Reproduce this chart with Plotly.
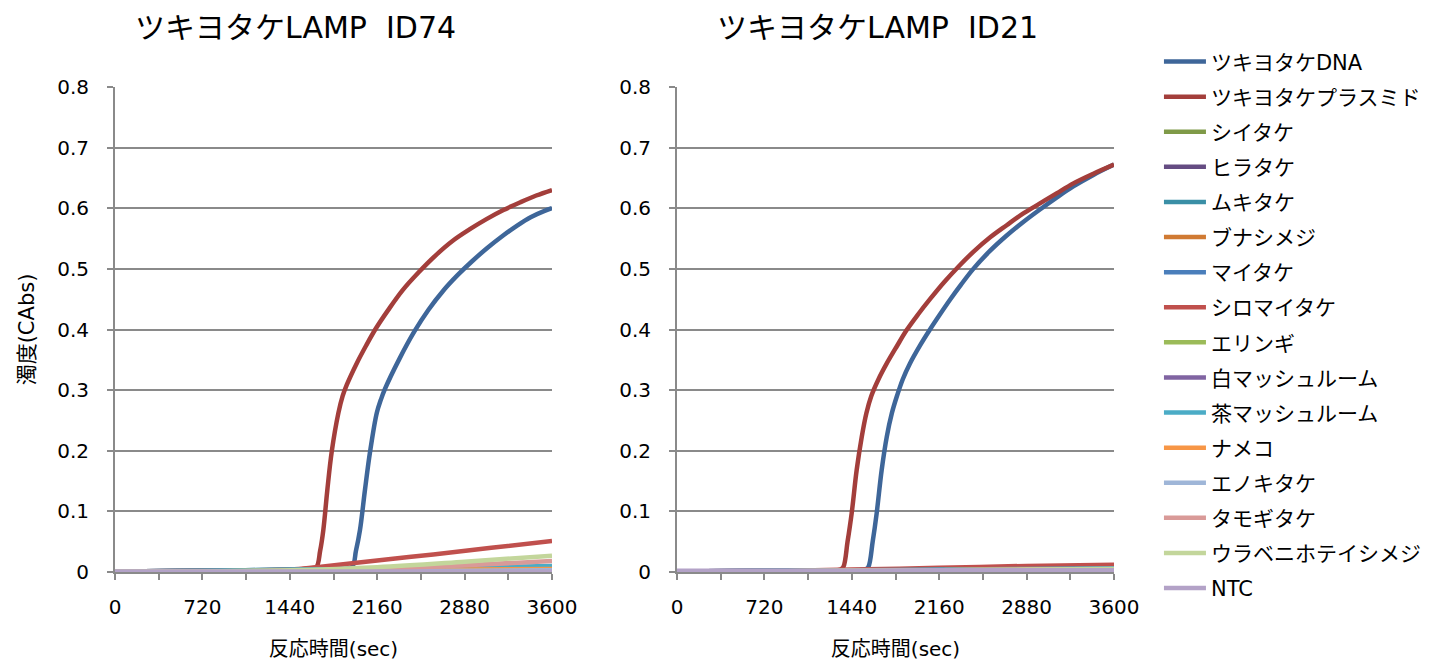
import plotly.graph_objects as go

# ---- series (legend order) ----
series_names = [
    "ツキヨタケDNA", "ツキヨタケプラスミド", "シイタケ", "ヒラタケ", "ムキタケ",
    "ブナシメジ", "マイタケ", "シロマイタケ", "エリンギ", "白マッシュルーム",
    "茶マッシュルーム", "ナメコ", "エノキタケ", "タモギタケ", "ウラベニホテイシメジ", "NTC",
]
series_colors = [
    "#3E6699", "#A33E3B", "#7F9A48", "#654C82", "#3A8FA6", "#D07A33",
    "#4A7EBB", "#C0504D", "#9BBB59", "#8064A2", "#4BACC6", "#F79646",
    "#9FB6D8", "#D99A98", "#C3D69B", "#B3A2C7",
]

x_ticks = [0, 720, 1440, 2160, 2880, 3600]

# coarse sampling grid (sec) for the slowly drifting samples
t_grid = [0, 720, 1440, 2160, 2880, 3600]

# ---- ID74 ----
id74_dna_t = [0, 720, 1440, 1800, 1950, 1985, 2018, 2059, 2101, 2156, 2190, 2224, 2344,
              2464, 2584, 2704, 2824, 2944, 3064, 3184, 3304, 3424, 3544, 3600]
id74_dna = [0.001, 0.002, 0.004, 0.006, 0.008, 0.035, 0.069, 0.135, 0.198, 0.262, 0.284,
            0.302, 0.352, 0.396, 0.433, 0.464, 0.490, 0.513, 0.534, 0.553, 0.570, 0.585,
            0.596, 0.600]
id74_plasmid_t = [0, 720, 1440, 1600, 1658, 1690, 1716, 1749, 1785, 1840, 1875, 1910,
                  1991, 2070, 2150, 2250, 2370, 2500, 2640, 2780, 2920, 3060, 3200, 3340,
                  3470, 3600]
id74_plasmid = [0.001, 0.002, 0.004, 0.006, 0.008, 0.035, 0.069, 0.135, 0.198, 0.262,
                0.290, 0.309, 0.344, 0.374, 0.402, 0.432, 0.465, 0.494, 0.522, 0.546,
                0.565, 0.582, 0.597, 0.610, 0.621, 0.630]
id74_shiromaitake_t = [0, 720, 1440, 1661, 2160, 2622, 3100, 3600]
id74_shiromaitake = [0.001, 0.002, 0.004, 0.008, 0.019, 0.029, 0.040, 0.051]
id74_shiitake = [0.001, 0.001, 0.002, 0.003, 0.004, 0.005]
id74_hiratake = [0.001, 0.001, 0.002, 0.002, 0.003, 0.004]
id74_mukitake = [0.001, 0.002, 0.003, 0.004, 0.005, 0.006]
id74_bunashimeji = [0.001, 0.001, 0.002, 0.003, 0.004, 0.005]
id74_maitake = [0.001, 0.002, 0.003, 0.003, 0.004, 0.005]
id74_eringi = [0.001, 0.001, 0.002, 0.003, 0.004, 0.005]
id74_white_mushroom = [0.001, 0.001, 0.002, 0.002, 0.003, 0.004]
id74_brown_mushroom = [0.001, 0.002, 0.004, 0.005, 0.007, 0.010]
id74_nameko = [0.001, 0.001, 0.002, 0.003, 0.004, 0.005]
id74_enokitake = [0.001, 0.001, 0.001, 0.002, 0.002, 0.003]
id74_tamogitake = [0.001, 0.001, 0.002, 0.005, 0.011, 0.018]
id74_urabeni = [0.001, 0.001, 0.003, 0.008, 0.017, 0.027]
id74_ntc = [0.001, 0.001, 0.001, 0.001, 0.001, 0.001]

# ---- ID21 ----
id21_dna_t = [0, 720, 1440, 1550, 1576, 1612, 1645, 1686, 1728, 1770, 1810, 1860, 1919,
              2000, 2084, 2160, 2249, 2340, 2441, 2580, 2716, 2850, 2990, 3130, 3265,
              3430, 3600]
id21_dna = [0.001, 0.002, 0.003, 0.004, 0.008, 0.050, 0.097, 0.168, 0.223, 0.262, 0.289,
            0.318, 0.344, 0.373, 0.400, 0.423, 0.449, 0.474, 0.500, 0.530, 0.555, 0.577,
            0.598, 0.618, 0.636, 0.655, 0.672]
id21_plasmid_t = [0, 720, 1200, 1345, 1370, 1405, 1439, 1480, 1522, 1560, 1600, 1660,
                  1728, 1810, 1892, 1990, 2084, 2200, 2320, 2441, 2580, 2716, 2850, 2990,
                  3130, 3265, 3430, 3600]
id21_plasmid = [0.001, 0.002, 0.003, 0.004, 0.008, 0.050, 0.097, 0.168, 0.223, 0.262,
                0.290, 0.318, 0.344, 0.372, 0.399, 0.426, 0.450, 0.478, 0.504, 0.528,
                0.552, 0.572, 0.591, 0.608, 0.625, 0.641, 0.657, 0.672]
id21_shiitake = [0.001, 0.001, 0.002, 0.003, 0.004, 0.005]
id21_hiratake = [0.001, 0.001, 0.002, 0.002, 0.003, 0.004]
id21_mukitake = [0.001, 0.002, 0.003, 0.004, 0.005, 0.006]
id21_bunashimeji = [0.001, 0.001, 0.002, 0.003, 0.004, 0.004]
id21_maitake = [0.001, 0.002, 0.003, 0.004, 0.004, 0.005]
id21_shiromaitake = [0.001, 0.002, 0.004, 0.007, 0.010, 0.012]
id21_eringi = [0.001, 0.001, 0.002, 0.003, 0.004, 0.005]
id21_white_mushroom = [0.001, 0.001, 0.002, 0.002, 0.003, 0.004]
id21_brown_mushroom = [0.001, 0.002, 0.003, 0.004, 0.005, 0.006]
id21_nameko = [0.001, 0.001, 0.002, 0.003, 0.004, 0.004]
id21_enokitake = [0.001, 0.001, 0.001, 0.002, 0.002, 0.003]
id21_tamogitake = [0.001, 0.001, 0.002, 0.003, 0.004, 0.005]
id21_urabeni = [0.001, 0.001, 0.002, 0.003, 0.004, 0.005]
id21_ntc = [0.002, 0.002, 0.002, 0.003, 0.003, 0.003]

panel_id74 = [
    (id74_dna_t, id74_dna), (id74_plasmid_t, id74_plasmid), (t_grid, id74_shiitake),
    (t_grid, id74_hiratake), (t_grid, id74_mukitake), (t_grid, id74_bunashimeji),
    (t_grid, id74_maitake), (id74_shiromaitake_t, id74_shiromaitake), (t_grid, id74_eringi),
    (t_grid, id74_white_mushroom), (t_grid, id74_brown_mushroom), (t_grid, id74_nameko),
    (t_grid, id74_enokitake), (t_grid, id74_tamogitake), (t_grid, id74_urabeni),
    (t_grid, id74_ntc),
]
panel_id21 = [
    (id21_dna_t, id21_dna), (id21_plasmid_t, id21_plasmid), (t_grid, id21_shiitake),
    (t_grid, id21_hiratake), (t_grid, id21_mukitake), (t_grid, id21_bunashimeji),
    (t_grid, id21_maitake), (t_grid, id21_shiromaitake), (t_grid, id21_eringi),
    (t_grid, id21_white_mushroom), (t_grid, id21_brown_mushroom), (t_grid, id21_nameko),
    (t_grid, id21_enokitake), (t_grid, id21_tamogitake), (t_grid, id21_urabeni),
    (t_grid, id21_ntc),
]

FONT = "DejaVu Sans, Noto Sans CJK JP, sans-serif"
GRID = "#8A8A8A"

fig = go.Figure()
for panel, (xa, ya), show in ((panel_id74, ("x", "y"), True), (panel_id21, ("x2", "y2"), False)):
    for (t, v), name, color in zip(panel, series_names, series_colors):
        fig.add_trace(go.Scatter(
            x=t, y=v, name=name, mode="lines",
            line=dict(color=color, width=4.5, shape="spline", smoothing=1.0),
            xaxis=xa, yaxis=ya, showlegend=show, legendgroup=name,
            hoverinfo="skip",
        ))

xaxis_common = dict(
    range=[0, 3600], tickvals=x_ticks, ticks="outside", ticklen=6, tickwidth=1.5,
    tickcolor=GRID, showline=True, linecolor=GRID, linewidth=2, showgrid=False,
    zeroline=False, tickfont=dict(family=FONT, size=20, color="#000"),
    ticklabelstandoff=10,
    minor=dict(dtick=360, tick0=0, ticks="outside", ticklen=6, tickwidth=1.5,
               tickcolor=GRID, showgrid=False),
    title=dict(text="反応時間(sec)", font=dict(family=FONT, size=20, color="#000"),
               standoff=28),
    fixedrange=True,
)
yaxis_common = dict(
    range=[0, 0.8], dtick=0.1, tick0=0, ticks="outside", ticklen=6, tickwidth=1.5,
    tickcolor=GRID, showline=True, linecolor=GRID, linewidth=2, showgrid=True,
    gridcolor=GRID, gridwidth=1.5, zeroline=False,
    tickfont=dict(family=FONT, size=20, color="#000"), ticklabelstandoff=14,
    fixedrange=True,
)

fig.update_layout(
    width=1435, height=661,
    margin=dict(l=115, r=321, t=87, b=89, autoexpand=False),
    paper_bgcolor="white", plot_bgcolor="white",
    font=dict(family=FONT, color="#000"),
    xaxis=dict(xaxis_common, domain=[0, 437 / 999], anchor="y"),
    xaxis2=dict(xaxis_common, domain=[562 / 999, 1], anchor="y2"),
    yaxis=dict(yaxis_common, anchor="x",
               title=dict(text="濁度(CAbs)", font=dict(family=FONT, size=21, color="#000"),
                          standoff=17)),
    yaxis2=dict(yaxis_common, anchor="x2"),
    legend=dict(
        x=1.045, xanchor="left", y=1.094, yanchor="top",
        font=dict(family=FONT, size=21, color="#000"),
        tracegroupgap=4.8, itemwidth=42, bgcolor="rgba(0,0,0,0)",
        maxheight=661,
    ),
    annotations=[
        dict(text="ツキヨタケLAMP  ID74", x=180 / 999, y=1 + 60 / 485, xref="paper", yref="paper",
             xanchor="center", yanchor="middle", showarrow=False,
             font=dict(family=FONT, size=30, color="#000")),
        dict(text="ツキヨタケLAMP  ID21", x=762 / 999, y=1 + 60 / 485, xref="paper", yref="paper",
             xanchor="center", yanchor="middle", showarrow=False,
             font=dict(family=FONT, size=30, color="#000")),
    ],
)

fig.write_html("out.html")
